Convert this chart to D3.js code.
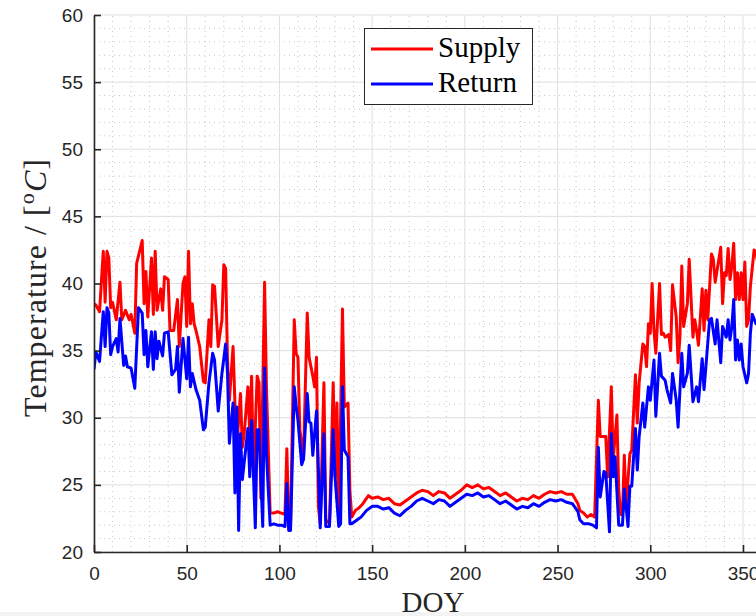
<!DOCTYPE html>
<html>
<head>
<meta charset="utf-8">
<script src="https://cdn.jsdelivr.net/npm/d3@7"></script>
<style>
  html, body { margin: 0; padding: 0; background: #ffffff; }
  svg { display: block; }
</style>
</head>
<body>
<script>
// ---------------- DATA ----------------
const seriesNames = ["Supply", "Return"];
const xTicks = [0, 50, 100, 150, 200, 250, 300, 350];
const yTicks = [20, 25, 30, 35, 40, 45, 50, 55, 60];

const doySupply = [0,1,3,5,6,7,8,9,10,12,14,15,17,19,20,22,23,26,27,28,29,31,32,33,34,35,36,37,38,40,
  41,43,45,46,48,49,50,51,52,53,54,55,57,59,60,62,63,64,65,67,69,70,71,72,73,75,76,77,79,80,
  81,83,84,85,86,88,89,90,92,93,95,97,99,101,103,104,105,106,108,109,110,111,113,115,116,118,119,120,121,122,
  124,125,127,129,130,131,132,134,135,137,138,139,141,143,145,148,
  150,153,156,159,162,165,168,171,174,177,180,183,186,189,192,195,198,201,204,207,210,213,216,219,222,225,228,231,234,237,
  240,243,246,249,252,255,258,261,262,264,266,268,270,272,273,275,276,277,279,280,282,283,284,285,286,287,288,289,290,292,
  293,294,296,297,298,299,300,301,302,303,305,306,307,308,310,311,312,314,315,316,317,318,320,321,323,324,325,326,328,329,
  330,331,333,334,335,337,338,339,340,341,342,343,344,345,346,347,348,349,350,351,352,353,354,356,357,358];
const supply = [38.5,38.4,37.9,42.4,38.6,42.4,41.9,38.2,38.6,37.3,40.1,37.3,38.0,37.3,37.7,36.3,41.5,43.2,38.5,40.9,37.5,41.9,37.7,42.4,38.0,38.8,39.6,38.0,40.5,40.3,
  36.5,36.5,38.8,35.3,40.0,40.5,36.8,42.4,37.0,38.5,37.0,36.5,35.3,32.7,32.6,37.3,35.3,39.9,39.8,35.3,37.3,41.4,41.1,34.3,31.3,35.3,31.1,27.8,31.8,27.8,
  28.8,32.3,28.8,33.1,25.6,33.1,32.6,24.0,40.1,32.3,22.9,22.9,23.0,22.9,22.8,27.7,22.1,22.1,37.3,34.8,34.5,29.1,27.1,37.8,34.5,33.1,32.3,34.5,23.4,22.1,
  32.6,22.4,22.1,32.6,25.6,31.1,22.1,38.1,30.8,31.1,24.6,22.6,23.1,23.3,23.6,24.2,
  24.0,24.1,23.9,24.0,23.6,23.5,23.8,24.1,24.4,24.6,24.5,24.2,24.5,24.4,24.0,24.3,24.6,25.0,24.8,25.0,24.7,24.8,24.5,24.2,24.4,24.1,23.8,24.0,23.9,24.2,
  24.0,24.3,24.5,24.4,24.5,24.3,24.3,23.6,23.1,22.9,22.6,22.8,22.6,31.3,28.6,28.6,28.6,25.6,32.3,26.9,30.2,24.6,22.8,22.8,27.2,23.1,25.4,27.3,27.6,33.2,
  29.6,32.6,35.5,35.3,33.8,37.0,36.3,40.0,36.5,34.8,40.0,36.2,36.3,36.0,36.2,35.0,39.9,37.5,34.1,36.0,41.3,36.8,38.5,41.8,36.0,37.3,36.5,35.4,39.6,36.5,
  39.5,37.3,42.2,41.8,40.1,41.8,42.7,38.5,40.8,40.6,42.6,40.3,41.3,43.0,38.8,40.8,38.8,40.8,38.8,41.6,36.8,37.3,39.8,42.5,42.3,41.5];

const doyReturn = [0,1,3,5,6,7,8,9,10,12,13,14,16,17,18,20,22,24,26,27,28,29,31,32,33,34,35,37,38,40,
  42,44,45,46,48,50,51,52,53,55,57,59,60,62,64,65,67,69,71,72,73,75,76,77,78,79,80,83,84,85,
  87,88,89,91,92,93,95,97,99,101,103,104,105,106,108,109,110,112,113,115,116,117,118,120,122,124,125,127,129,130,
  132,133,134,135,137,138,139,142,144,147,
  150,153,156,159,162,165,168,171,174,177,180,183,186,189,192,195,198,201,204,207,210,213,216,219,222,225,228,231,234,237,
  240,243,246,249,252,255,258,261,262,264,267,269,271,272,273,275,276,278,279,280,281,283,285,286,288,289,290,292,293,294,
  296,297,299,300,302,303,305,306,308,309,311,312,314,315,317,318,320,321,323,325,326,328,329,330,332,333,335,336,338,339,
  341,342,343,344,345,346,347,348,349,350,352,353,354,355,357,358];
const returnT = [33.6,34.9,34.2,37.9,35.3,38.2,37.8,34.7,35.3,35.9,34.9,37.4,33.9,34.6,33.8,33.7,32.2,38.2,37.8,34.7,36.5,33.8,36.4,33.6,36.4,34.4,35.7,34.6,36.3,36.4,
  33.2,33.6,35.3,31.9,35.9,32.9,36.0,32.3,33.3,32.1,31.3,29.1,29.3,32.6,34.8,34.3,30.5,33.3,35.5,33.3,28.1,31.1,24.4,30.8,21.6,28.8,25.4,29.2,25.6,29.8,
  21.8,29.1,29.1,21.9,33.7,27.3,22.0,22.1,22.0,22.0,21.9,25.1,21.6,21.6,32.3,30.9,29.8,26.5,26.9,31.8,29.7,29.6,27.2,30.5,21.8,28.8,21.9,21.9,29.1,25.6,
  21.9,22.1,32.3,27.6,27.1,22.1,22.1,22.4,22.6,23.1,
  23.4,23.4,23.2,23.3,22.9,22.7,23.1,23.4,23.8,24.0,23.8,23.6,23.9,23.8,23.4,23.7,24.0,24.3,24.2,24.4,24.1,24.2,23.9,23.6,23.8,23.5,23.2,23.4,23.3,23.6,
  23.4,23.7,23.9,23.8,23.9,23.7,23.6,23.0,22.4,22.1,22.1,22.0,21.8,27.8,24.1,26.0,25.9,21.5,28.8,25.6,27.1,22.0,22.0,24.7,21.9,24.9,24.9,29.2,26.1,28.6,
  31.1,29.3,32.3,31.3,34.3,30.1,34.8,33.1,32.8,32.1,31.1,33.3,31.3,29.3,34.8,32.3,33.3,35.4,31.2,32.3,31.2,34.4,32.1,33.8,37.3,37.4,35.5,37.3,34.1,36.8,
  36.0,37.3,35.8,36.8,38.8,34.3,35.8,34.3,35.5,33.8,32.6,33.3,36.3,37.7,37.0,37.3];

// ---------------- CHART ----------------
const W = 756, H = 616;
const svg = d3.select("body").append("svg").attr("width", W).attr("height", H);

svg.append("rect").attr("x", 0).attr("y", 0).attr("width", W).attr("height", H).attr("fill", "#ffffff");
svg.append("rect").attr("x", 0).attr("y", 612).attr("width", W).attr("height", 4).attr("fill", "#f3f3f3");

const x = d3.scaleLinear().domain([0, 365]).range([94, 770.8]);
const y = d3.scaleLinear().domain([20, 60]).range([552, 15]);

const axisColor = "#262626";

// minor grid
const xMinor = d3.range(0, 366, 10).filter(v => v % 50 !== 0);
const yMinor = d3.range(20, 61, 1).filter(v => v % 5 !== 0);
const grid = svg.append("g");
grid.selectAll("line.xm").data(xMinor).join("line")
  .attr("x1", d => x(d)).attr("x2", d => x(d)).attr("y1", y(20)).attr("y2", y(60))
  .attr("stroke", "#c8c8c8").attr("stroke-width", 1).attr("stroke-dasharray", "1,4");
grid.selectAll("line.ym").data(yMinor).join("line")
  .attr("x1", x(0)).attr("x2", x(365)).attr("y1", d => y(d)).attr("y2", d => y(d))
  .attr("stroke", "#c8c8c8").attr("stroke-width", 1).attr("stroke-dasharray", "1,4");
// major grid
grid.selectAll("line.xM").data(xTicks).join("line")
  .attr("x1", d => x(d)).attr("x2", d => x(d)).attr("y1", y(20)).attr("y2", y(60))
  .attr("stroke", "#dfdfdf").attr("stroke-width", 1);
grid.selectAll("line.yM").data(yTicks).join("line")
  .attr("x1", x(0)).attr("x2", x(365)).attr("y1", d => y(d)).attr("y2", d => y(d))
  .attr("stroke", "#dfdfdf").attr("stroke-width", 1);

// clip
svg.append("defs").append("clipPath").attr("id", "plotclip")
  .append("rect").attr("x", x(0)).attr("y", y(60) - 2).attr("width", x(365) - x(0)).attr("height", y(20) - y(60) + 2);

const line = d3.line().x(d => x(d[0])).y(d => y(d[1]));
const plot = svg.append("g").attr("clip-path", "url(#plotclip)");
plot.append("path").datum(doySupply.map((d, i) => [d, supply[i]]))
  .attr("d", line).attr("fill", "none").attr("stroke", "#ff0000").attr("stroke-width", 3)
  .attr("stroke-linejoin", "round");
plot.append("path").datum(doyReturn.map((d, i) => [d, returnT[i]]))
  .attr("d", line).attr("fill", "none").attr("stroke", "#0000ff").attr("stroke-width", 3)
  .attr("stroke-linejoin", "round");

// axes
const xAxis = d3.axisBottom(x).tickValues(xTicks).tickSize(-7).tickSizeOuter(0).tickPadding(15);
const yAxis = d3.axisLeft(y).tickValues(yTicks).tickSize(-7).tickSizeOuter(0).tickPadding(11);

const gx = svg.append("g").attr("transform", `translate(0,${y(20)})`).call(xAxis);
const gy = svg.append("g").attr("transform", `translate(${x(0)},0)`).call(yAxis);
[gx, gy].forEach(g => {
  g.select(".domain").attr("stroke", axisColor).attr("stroke-width", 1.6);
  g.selectAll(".tick line").attr("stroke", axisColor).attr("stroke-width", 1.6);
  g.selectAll(".tick text").attr("fill", axisColor)
    .style("font-family", "'Liberation Sans', Arial, sans-serif").style("font-size", "19px");
});

// axis labels
svg.append("text").attr("x", 433).attr("y", 612).attr("text-anchor", "middle")
  .style("font-family", "'Liberation Serif', 'Times New Roman', serif").style("font-size", "29px")
  .attr("fill", axisColor).text("DOY");

const yl = svg.append("text").attr("transform", "translate(46,288) rotate(-90)")
  .attr("text-anchor", "middle")
  .attr("textLength", 258).attr("lengthAdjust", "spacing")
  .style("font-family", "'Liberation Serif', 'Times New Roman', serif").style("font-size", "32px")
  .attr("fill", axisColor);
yl.append("tspan").text("Temperature / [");
yl.append("tspan").attr("dy", -12).style("font-size", "22px").text("o");
yl.append("tspan").attr("dy", 12).style("font-style", "italic").text("C");
yl.append("tspan").text("]");

// legend
const lg = svg.append("g");
lg.append("rect").attr("x", 364.5).attr("y", 28.5).attr("width", 168).attr("height", 76)
  .attr("fill", "#ffffff").attr("stroke", axisColor).attr("stroke-width", 1);
const legendColors = ["#ff0000", "#0000ff"];
seriesNames.forEach((name, i) => {
  const yy = 49 + i * 35;
  lg.append("line").attr("x1", 371).attr("x2", 433).attr("y1", yy).attr("y2", yy)
    .attr("stroke", legendColors[i]).attr("stroke-width", 3);
  lg.append("text").attr("x", 438).attr("y", yy + 8)
    .style("font-family", "'Liberation Serif', 'Times New Roman', serif").style("font-size", "29px")
    .attr("fill", "#000000").text(name);
});
</script>
</body>
</html>
